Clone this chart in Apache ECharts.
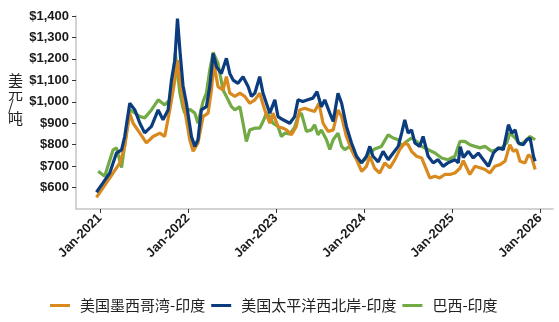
<!DOCTYPE html>
<html><head><meta charset="utf-8">
<script src="https://cdn.jsdelivr.net/npm/echarts@6/dist/echarts.min.js"></script>
<style>html,body{margin:0;padding:0;background:#fff}#c{width:559px;height:322px}</style>
</head><body><div id="c"></div>
<script>
const seriesNames = ['美国墨西哥湾-印度', '美国太平洋西北岸-印度', '巴西-印度'];
const yTicks = [600, 700, 800, 900, 1000, 1100, 1200, 1300, 1400];
const xTickYears = [2021, 2022, 2023, 2024, 2025, 2026];

const gulfDates = ['2020-12-18','2021-01-28','2021-02-25','2021-03-25','2021-04-14','2021-05-05','2021-05-19','2021-06-16','2021-07-13','2021-08-10','2021-09-07','2021-09-27','2021-10-18','2021-11-08','2021-11-19','2021-11-29','2021-12-12','2022-01-09','2022-01-23','2022-02-12','2022-03-05','2022-03-26','2022-04-09','2022-04-19','2022-05-06','2022-05-27','2022-06-10','2022-06-24','2022-07-15','2022-08-05','2022-08-25','2022-09-15','2022-10-06','2022-10-26','2022-11-16','2022-12-07','2022-12-20','2023-01-10','2023-01-31','2023-02-14','2023-03-07','2023-03-27','2023-04-10','2023-05-01','2023-05-22','2023-06-11','2023-06-29','2023-07-16','2023-08-06','2023-08-27','2023-09-16','2023-10-01','2023-10-21','2023-11-11','2023-12-02','2023-12-23','2024-01-12','2024-01-26','2024-02-15','2024-03-07','2024-03-28','2024-04-18','2024-05-09','2024-05-29','2024-06-19','2024-07-03','2024-07-17','2024-08-07','2024-08-28','2024-09-17','2024-10-01','2024-10-22','2024-11-11','2024-12-02','2024-12-23','2025-01-13','2025-02-03','2025-02-17','2025-03-16','2025-04-06','2025-04-27','2025-05-18','2025-06-07','2025-06-28','2025-07-19','2025-08-09','2025-08-29','2025-09-12','2025-09-26','2025-10-10','2025-10-31','2025-11-14','2025-11-28','2025-12-12'];
const gulfValues = [554,622,668,715,792,947,900,854,808,838,854,838,962,1101,1194,1101,1009,823,769,808,931,947,1055,1179,1071,1055,1117,1040,1025,1040,1025,993,1009,1040,962,900,947,885,877,869,846,885,962,970,962,955,993,900,862,869,962,931,838,777,730,676,699,746,690,668,715,692,730,777,808,800,769,746,738,684,645,653,645,661,661,668,690,725,661,699,692,684,668,699,707,723,800,769,777,723,715,753,738,684];

const pnwDates = ['2020-12-18','2021-01-14','2021-02-11','2021-03-11','2021-04-01','2021-04-14','2021-05-05','2021-05-26','2021-06-16','2021-07-06','2021-08-03','2021-08-31','2021-09-20','2021-10-11','2021-10-25','2021-11-08','2021-11-19','2021-11-29','2021-12-12','2021-12-26','2022-01-16','2022-01-30','2022-02-12','2022-02-26','2022-03-19','2022-04-02','2022-04-16','2022-04-30','2022-05-20','2022-06-10','2022-06-24','2022-07-08','2022-07-28','2022-08-18','2022-09-08','2022-09-22','2022-10-06','2022-10-26','2022-11-09','2022-11-23','2022-12-07','2022-12-28','2023-01-10','2023-01-31','2023-02-28','2023-03-20','2023-04-03','2023-04-23','2023-05-14','2023-06-04','2023-06-21','2023-07-09','2023-07-23','2023-08-13','2023-08-27','2023-09-16','2023-10-01','2023-10-21','2023-11-11','2023-12-02','2023-12-23','2024-01-12','2024-01-26','2024-02-08','2024-03-01','2024-03-21','2024-04-11','2024-05-02','2024-05-23','2024-06-06','2024-06-19','2024-07-03','2024-07-17','2024-07-31','2024-08-20','2024-09-03','2024-09-24','2024-10-15','2024-11-04','2024-11-25','2024-12-15','2025-01-13','2025-01-27','2025-02-04','2025-02-17','2025-03-10','2025-03-30','2025-04-20','2025-05-11','2025-06-01','2025-06-22','2025-07-12','2025-08-02','2025-08-23','2025-09-06','2025-09-20','2025-10-03','2025-10-24','2025-11-07','2025-11-21','2025-12-05','2025-12-12'];
const pnwValues = [578,622,668,761,776,838,993,962,900,855,885,962,916,962,1101,1194,1388,1241,1075,993,838,792,823,962,977,1071,1225,1163,1132,1203,1132,1101,1086,1117,1071,1025,1040,1117,1040,993,947,1009,931,916,900,931,1009,1001,1009,1017,1047,977,1009,947,908,1040,993,885,808,746,715,746,792,746,720,769,730,761,792,854,916,854,869,808,792,838,746,715,730,699,715,730,715,790,740,769,738,761,730,699,761,785,777,893,854,869,808,800,823,831,746,723];

const brazilDates = ['2020-12-25','2021-01-21','2021-02-25','2021-03-11','2021-04-01','2021-04-21','2021-05-05','2021-05-26','2021-06-16','2021-07-06','2021-08-03','2021-08-31','2021-09-27','2021-10-18','2021-10-31','2021-11-10','2021-11-29','2021-12-11','2021-12-19','2022-01-09','2022-01-30','2022-02-12','2022-03-05','2022-03-19','2022-04-02','2022-04-16','2022-05-06','2022-05-27','2022-06-10','2022-07-01','2022-07-15','2022-08-05','2022-08-18','2022-09-01','2022-09-15','2022-10-06','2022-10-26','2022-11-09','2022-11-23','2022-12-07','2022-12-20','2023-01-10','2023-01-24','2023-02-07','2023-02-28','2023-03-20','2023-04-03','2023-04-17','2023-05-08','2023-05-29','2023-06-11','2023-06-25','2023-07-09','2023-07-30','2023-08-13','2023-08-27','2023-09-16','2023-10-01','2023-10-14','2023-11-04','2023-11-25','2023-12-15','2024-01-05','2024-01-26','2024-02-15','2024-03-14','2024-04-11','2024-05-02','2024-05-23','2024-06-06','2024-06-26','2024-07-17','2024-08-07','2024-08-28','2024-09-24','2024-10-22','2024-11-19','2024-12-15','2025-01-13','2025-02-03','2025-02-23','2025-03-16','2025-04-06','2025-04-27','2025-05-18','2025-06-14','2025-07-05','2025-07-26','2025-08-16','2025-08-29','2025-09-20','2025-10-10','2025-10-31','2025-11-21','2025-12-12'];
const brazilValues = [676,653,776,785,693,855,962,948,931,925,962,1009,985,1009,1087,1227,1041,977,947,965,947,900,1001,1040,1148,1230,1179,1055,1025,977,962,977,900,815,869,877,877,908,947,931,900,885,838,854,850,880,931,947,862,869,893,846,869,823,777,823,854,792,777,792,746,715,730,761,780,792,846,831,823,792,815,831,815,792,777,761,738,730,746,815,815,800,792,785,792,769,777,785,808,854,831,800,815,838,823];

function ts(s) { const p = s.split('-').map(Number); return Date.UTC(p[0], p[1] - 1, p[2]); }
function pairs(d, v) { return d.map((x, i) => [ts(x), v[i]]); }
const colors = ['#D98A1F', '#0B3D7E', '#72AA45'];
const jan = xTickYears.map(y => Date.UTC(y, 0, 1));

const chart = echarts.init(document.getElementById('c'), null, {renderer: 'canvas'});
const mk = (name, data, color, z) => ({
  name, type: 'line', data, showSymbol: false, symbol: 'none', z,
  lineStyle: {width: 3.2, color}, itemStyle: {color}, animation: false
});
chart.setOption({
  animation: false,
  grid: {left: 76, right: 6, top: 16, bottom: 113, containLabel: false},
  xAxis: {
    type: 'value',
    min: Date.UTC(2020, 8, 24),
    max: Date.UTC(2026, 1, 24),
    splitLine: {show: false},
    axisLine: {lineStyle: {color: '#C4C4C4', width: 1.5}},
    axisTick: {show: true, customValues: jan, length: 4, lineStyle: {color: '#333'}},
    axisLabel: {
      customValues: jan, rotate: 45, margin: 7,
      fontFamily: 'Liberation Sans, Arial', fontWeight: 'bold', fontSize: 13, color: '#1a1a1a',
      formatter: v => 'Jan-' + new Date(v).getUTCFullYear()
    }
  },
  yAxis: {
    type: 'value', min: 500, max: 1400,
    splitLine: {show: false},
    axisLine: {show: true, lineStyle: {color: '#C4C4C4', width: 1.5}},
    axisTick: {show: true, customValues: yTicks, length: 4, lineStyle: {color: '#333'}},
    axisLabel: {
      customValues: yTicks, margin: 7,
      fontFamily: 'Liberation Sans, Arial', fontWeight: 'bold', fontSize: 13, color: '#1a1a1a',
      formatter: v => '$' + v.toLocaleString('en-US')
    }
  },
  legend: {
    left: 45, top: 293, icon: 'rect', itemWidth: 20, itemHeight: 3, itemGap: 6,
    textStyle: {fontFamily: 'Noto Sans CJK SC', fontSize: 15, color: '#222', padding: [0, 0, 0, 5]},
    data: seriesNames
  },
  graphic: [{
    type: 'text', left: 8, top: 73,
    style: {text: '美\n元\n/\n吨', font: '15px "Noto Sans CJK SC"', fill: '#222', lineHeight: 12.5, align: 'center'}
  }],
  series: [
    mk(seriesNames[0], pairs(gulfDates, gulfValues), colors[0], 3),
    mk(seriesNames[1], pairs(pnwDates, pnwValues), colors[1], 4),
    mk(seriesNames[2], pairs(brazilDates, brazilValues), colors[2], 2)
  ]
});
</script></body></html>
